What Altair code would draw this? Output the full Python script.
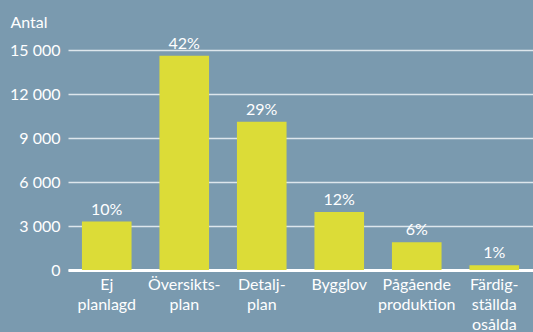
import altair as alt
import pandas as pd

categories = ["Ej planlagd", "Översikts- plan", "Detalj- plan", "Bygglov",
              "Pågående produktion", "Färdig- ställda osålda"]
values = [3300, 14600, 10100, 3950, 1900, 320]
shares = ["10%", "42%", "29%", "12%", "6%", "1%"]
y_ticks = [0, 3000, 6000, 9000, 12000, 15000]

df = pd.DataFrame({"kategori": categories, "antal": values, "andel": shares})

BG = "#7a9aaf"
BAR = "#dcdc37"
FONT = "Lato"

x = alt.X(
    "kategori:N", sort=None,
    scale=alt.Scale(paddingInner=0.36, paddingOuter=0.18),
    axis=alt.Axis(
        title=None, labelAngle=0, labelExpr="split(datum.label, ' ')",
        labelFontSize=16, labelColor="white", labelFont=FONT,
        labelLineHeight=20, labelPadding=6, ticks=False,
        domainColor="white", domainWidth=3, labelBaseline="top",
    ),
)
y = alt.Y(
    "antal:Q",
    scale=alt.Scale(domain=[0, 15000], nice=False),
    axis=alt.Axis(
        values=y_ticks,
        labelExpr="replace(format(datum.value, ','), ',', ' ')",
        labelFontSize=16, labelColor="white", labelFont=FONT,
        grid=True, gridColor="#dde6ec", gridWidth=1.5,
        domain=False, ticks=False, labelPadding=8,
        title="Antal", titleAngle=0, titleAlign="left",
        titleBaseline="alphabetic", titleX=-58, titleY=-23,
        titleFontWeight="normal", titleFontSize=16, titleFont=FONT,
        titleColor="white",
    ),
)

base = alt.Chart(df)
bars = base.mark_bar(color=BAR).encode(x=x, y=y)
labels = base.mark_text(
    color="white", font=FONT, fontSize=16, baseline="alphabetic", dy=-7
).encode(x=alt.X("kategori:N", sort=None), y="antal:Q", text="andel:N")

chart = (
    alt.layer(bars, labels)
    .properties(
        width=465, height=220, background=BG,
        autosize=alt.AutoSizeParams(type="none"),
        padding={"left": 68, "top": 50, "right": 0, "bottom": 62},
    )
    .configure_view(stroke=None)
)

chart.save("out.html", embed_options={"renderer": "svg", "actions": False})
